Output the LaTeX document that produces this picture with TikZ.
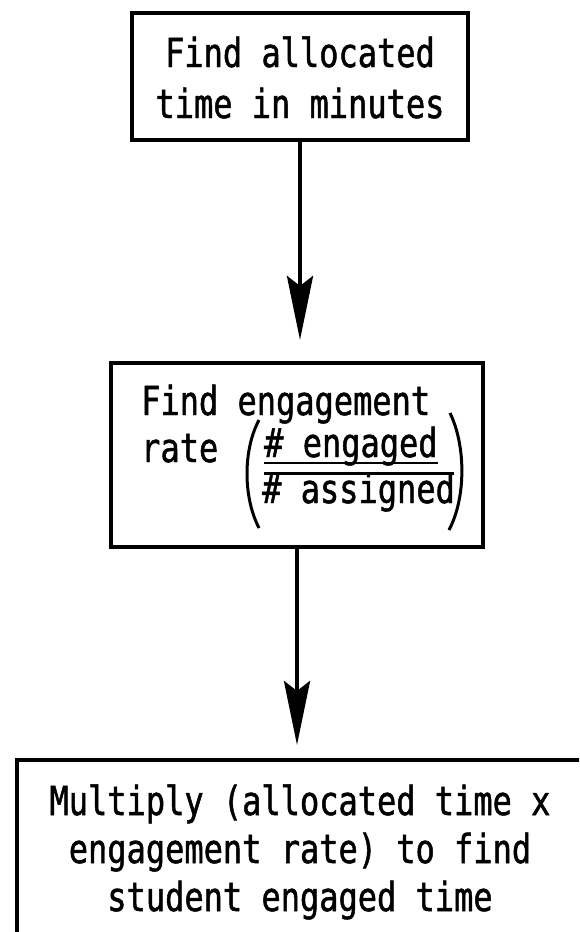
\documentclass[tikz,border=0pt]{standalone}
\usepackage{fontspec}
\usetikzlibrary{arrows.meta}
\newfontfamily\plotfont[FakeStretch=0.80, FakeBold=1.2]{DejaVu Sans Mono}
\tikzset{
  stepbox/.style={draw=black, line width=4pt, fill=none, inner sep=0pt, outer sep=0pt},
  steptext/.style={font=\plotfont\fontsize{40}{51}\selectfont, inner sep=0pt, align=center},
  flow/.style={line width=4.5pt, -{Stealth[length=64pt, width=26pt, inset=10pt]}},
  rule/.style={line width=3pt},
}
\begin{document}
\begin{tikzpicture}[x=1pt, y=-1pt]
  \useasboundingbox (0,0) rectangle (579,932);
  \clip (0,0) rectangle (579,932);
  \fill[white] (0,0) rectangle (579,932);

  % step 1: allocated time (base anchor sits on the last line)
  \node[stepbox, minimum width=336pt, minimum height=127pt] (b1) at (300,76.5) {};
  \node[steptext, anchor=base] (t1) at (300,118) {Find allocated\\time in minutes};

  % step 2: engagement rate as a fraction
  \node[stepbox, minimum width=372pt, minimum height=184pt] (b2) at (297,455) {};
  \node[steptext, anchor=base west] (t2a) at (141,415) {Find engagement};
  \node[steptext, anchor=base west] (t2b) at (141,462) {rate};
  \node[steptext, anchor=base west] (num) at (264,457) {\# engaged};
  \node[steptext, anchor=base west] (den) at (262,503) {\# assigned};
  \draw[line width=2.5pt] (264,463) -- (438,463);
  \draw[rule] (264,473) -- (454,473);
  \draw[line width=3pt] (259,420) .. controls (243,450) and (243,497) .. (259,528);
  \draw[line width=3pt] (450,413) .. controls (466,446) and (466,498) .. (449,530);

  % step 3: product of the two
  \node[stepbox, minimum width=566pt, minimum height=260pt] (b3) at (300,890) {};
  \node[steptext, anchor=base, font=\plotfont\fontsize{40}{48}\selectfont] (t3) at (300,911)
    {Multiply (allocated time x\\engagement rate) to find\\student engaged time};

  % connectors
  \coordinate (e1) at (300,340);
  \coordinate (e2) at (297,745);
  \draw[flow] (b1.south) -- (e1);
  \draw[flow] (b2.south) -- (e2);
\end{tikzpicture}
\end{document}
